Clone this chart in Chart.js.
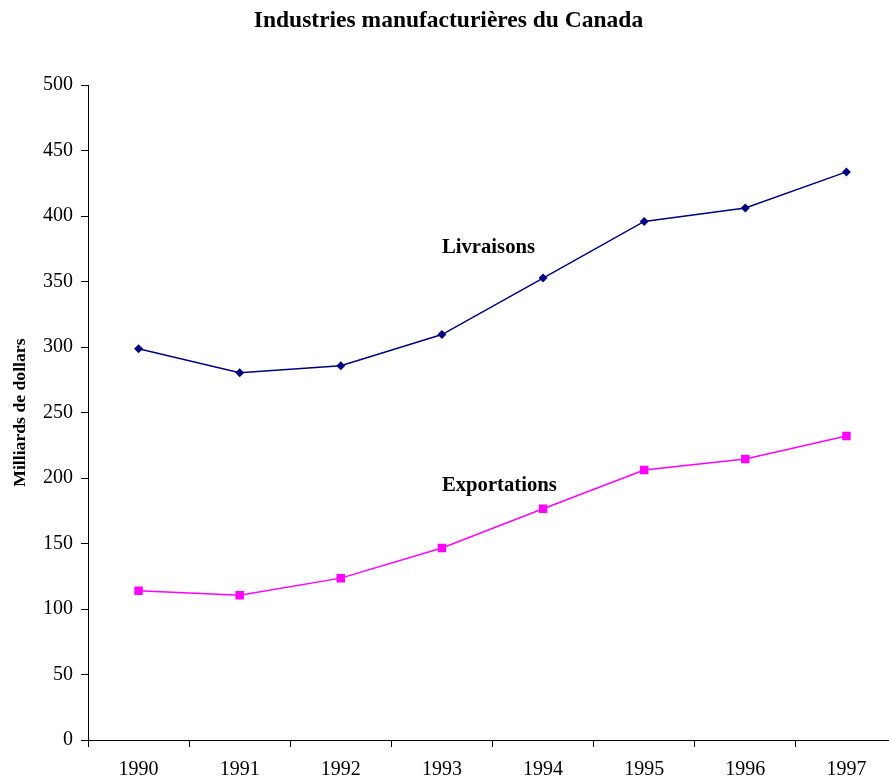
<!DOCTYPE html>
<html>
<head>
<meta charset="utf-8">
<script src="https://cdn.jsdelivr.net/npm/chart.js@4"></script>
<style>
  html, body { margin: 0; padding: 0; background: #fff; overflow: hidden; }
  #wrap { width: 897px; height: 778px; }
</style>
</head>
<body>
<div id="wrap"><canvas id="manufChart" width="897" height="778"></canvas></div>
<script>
window.onload = onPageLoad;

const years = ["1990", "1991", "1992", "1993", "1994", "1995", "1996", "1997"];
const livraisons = [298.7, 280.4, 285.8, 309.6, 352.7, 396.0, 406.3, 433.8];
const exportations = [113.9, 110.6, 123.6, 146.6, 176.6, 206.2, 214.6, 232.2];
const yTicks = [0, 50, 100, 150, 200, 250, 300, 350, 400, 450, 500];

// series labels written inside the plot, anchored on a category and a value
const seriesLabels = [
    { text: "Livraisons", year: "1993", value: 376 },
    { text: "Exportations", year: "1993", value: 194 }
];

const serif = "'Liberation Serif', 'Times New Roman', serif";

const seriesLabelPlugin = {
    id: 'seriesLabels',
    afterDatasetsDraw(chart) {
        const ctx = chart.ctx;
        const x = chart.scales.x;
        const y = chart.scales.y;
        ctx.save();
        ctx.font = "bold 20.7px " + serif;
        ctx.fillStyle = "#000";
        ctx.textAlign = "left";
        ctx.textBaseline = "middle";
        seriesLabels.forEach(function (l) {
            ctx.fillText(l.text, x.getPixelForValue(years.indexOf(l.year)), y.getPixelForValue(l.value));
        });
        ctx.restore();
    }
};

function onPageLoad() {
    createChart()
}

function createChart() {
    var context = document.getElementById('manufChart').getContext('2d');

    new Chart(context, {
        type: 'line',
        data: {
            labels: years,
            datasets: [{
                label: "Livraisons",
                data: livraisons,
                borderColor: "#000080",
                backgroundColor: "#000080",
                borderWidth: 1.5,
                pointStyle: 'rectRot',
                pointRadius: 4.5,
                pointBorderWidth: 0,
                tension: 0
            }, {
                label: "Exportations",
                data: exportations,
                borderColor: "#FF00FF",
                backgroundColor: "#FF00FF",
                borderWidth: 1.5,
                pointStyle: 'rect',
                pointRadius: 6,
                pointBorderWidth: 0,
                tension: 0
            }]
        },
        options: {
            responsive: false,
            animation: false,
            layout: { autoPadding: false, padding: 0 },
            plugins: {
                legend: { display: false },
                tooltip: { enabled: false },
                title: {
                    display: true,
                    text: "Industries manufacturières du Canada",
                    color: "#000",
                    font: { family: serif, size: 23.5, weight: 'bold' },
                    padding: { top: 7, bottom: 50 }
                }
            },
            scales: {
                x: {
                    type: 'category',
                    offset: true,
                    grid: { display: true, offset: true, drawOnChartArea: false, tickLength: 7, color: "#000", tickColor: "#000" },
                    border: { display: true, color: "#000", width: 1 },
                    ticks: { color: "#000", font: { family: serif, size: 20 }, padding: 11, maxRotation: 0 },
                    afterFit: function (scale) { scale.height = 38; }
                },
                y: {
                    min: 0,
                    max: 500,
                    afterBuildTicks: function (scale) {
                        scale.ticks = yTicks.map(function (v) { return { value: v }; });
                    },
                    grid: { display: true, drawOnChartArea: false, tickLength: 7, color: "#000", tickColor: "#000" },
                    border: { display: true, color: "#000", width: 1 },
                    ticks: { color: "#000", font: { family: serif, size: 20 }, padding: 8 },
                    title: {
                        display: true,
                        text: "Milliards de dollars",
                        color: "#000",
                        font: { family: serif, size: 17.7, weight: 'bold' },
                        padding: { top: 10, bottom: 0 }
                    },
                    afterFit: function (scale) { scale.width = 88; }
                }
            }
        },
        plugins: [seriesLabelPlugin]
    });
}
</script>
</body>
</html>
